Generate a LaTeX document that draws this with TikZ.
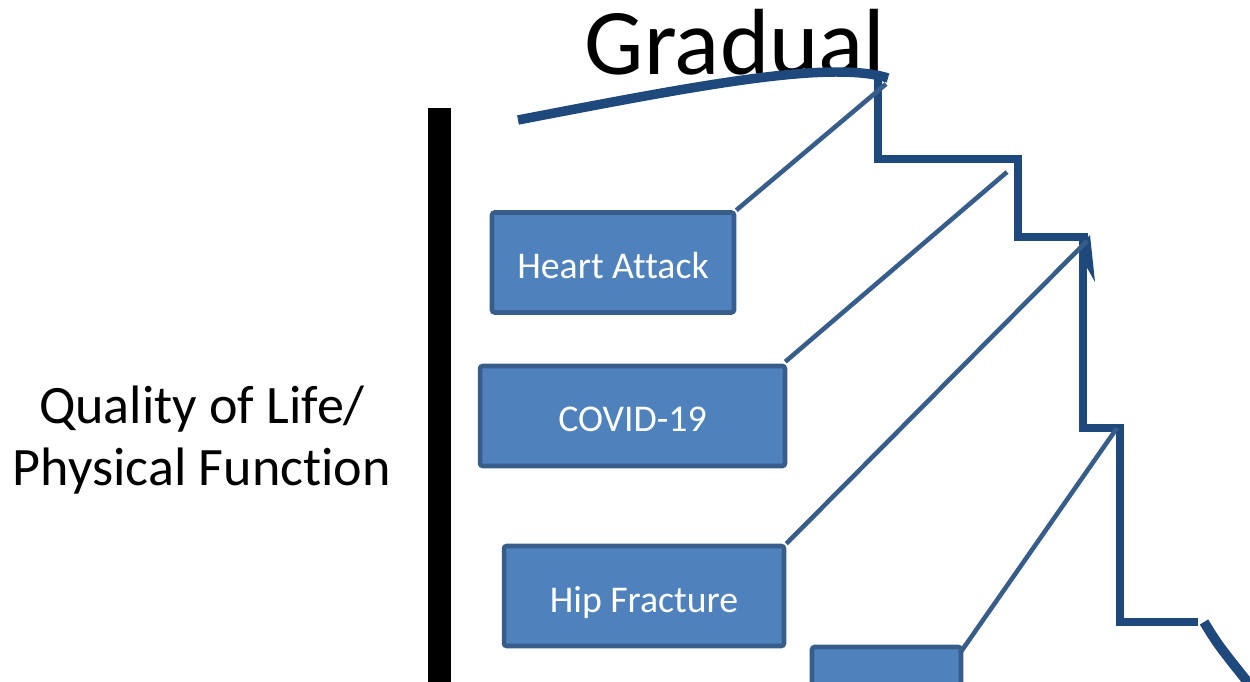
\documentclass[tikz,border=0pt]{standalone}
\usepackage{fontspec}
\setmainfont{Carlito}[Ligatures=NoCommon]
\definecolor{stairblue}{RGB}{31,73,125}
\definecolor{boxline}{RGB}{56,93,138}
\definecolor{boxfill}{RGB}{79,129,189}
\begin{document}
\begin{tikzpicture}[x=0.02cm, y=-0.02cm,
		event/.style={draw=boxline, fill=boxfill, line width=2.6pt, rounded corners=1.5pt, text=white,
			font=\fontsize{21.5}{25}\selectfont, inner sep=0pt, text height=0.64cm, text depth=0pt, minimum height=2cm},
		link/.style={draw=boxline, line width=2.6pt},
		stair/.style={draw=stairblue, line width=5pt, line join=miter}]
	\clip (0, 0) rectangle (1250, 682);
	\fill[black] (428, 108) rectangle (451, 682);
	\node[align=center, font=\fontsize{30.8}{35.4}\selectfont] (qol) at (202, 440) {Quality of Life/\\Physical Function};
	\node[anchor=base, font=\fontsize{53.5}{60}\selectfont] (grad) at (735, 75) {Gradual};
	\draw[stair, line width=5.4pt] (518, 120) .. controls (700, 85) and (830, 60) .. (888, 78);
	\draw[stair] (878, 76) -- (878, 159) -- (1018, 159) -- (1018, 237) -- (1088, 237);
	\fill[stairblue] (1079, 246) -- (1090, 235) -- (1095, 282) -- (1086, 266) -- cycle;
	\draw[stair] (1083, 237) -- (1083, 428) -- (1120, 428) -- (1120, 622) -- (1198, 622);
	\draw[stair, line width=5.6pt] (1204, 622) .. controls (1218, 645) .. (1262, 700);
	\node[event, minimum width=4.84cm] (heart) at (613, 262.5) {Heart Attack};
	\node[event, minimum width=6.1cm] (covid) at (632.5, 416) {COVID-19};
	\node[event, minimum width=5.6cm] (hip) at (644, 596) {Hip Fracture};
	\node[event, minimum width=2.98cm] (fourth) at (886.5, 697) {};
	\coordinate (c1) at (886, 84);
	\coordinate (c2) at (1007, 172);
	\coordinate (c3) at (1087, 241);
	\coordinate (c4) at (1117, 428);
	\draw[link] (heart.north east) -- (c1);
	\draw[link] (covid.north east) ++(-2, -2) -- (c2);
	\draw[link] (hip.north east) -- (c3);
	\draw[link] (fourth.north east) ++(-3, 8) -- (c4);
\end{tikzpicture}
\end{document}
